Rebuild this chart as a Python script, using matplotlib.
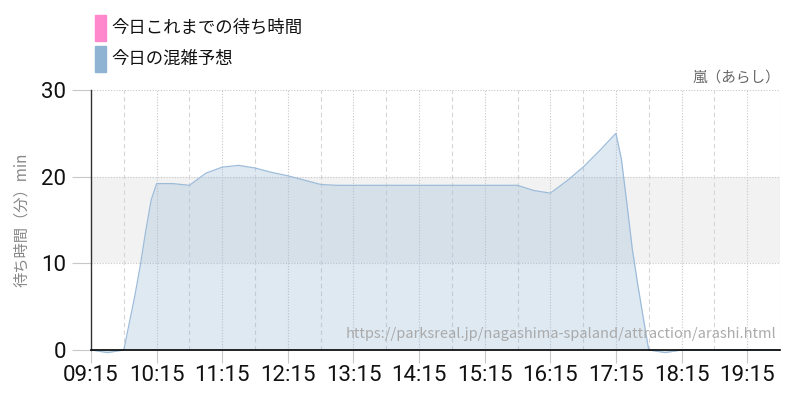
import numpy as np
import matplotlib.pyplot as plt
from matplotlib.patches import Rectangle

plt.rcParams['font.family'] = ['Noto Sans CJK JP', 'DejaVu Sans']

# forecast wait time (minutes) by time of day
times = ["09:15", "09:30", "09:45", "09:50", "09:55", "10:00", "10:05", "10:10",
         "10:15", "10:30", "10:45", "11:00", "11:15", "11:30", "11:45", "12:00",
         "12:15", "12:30", "12:45", "13:00", "13:15", "13:30", "13:45", "14:00",
         "14:15", "14:30", "14:45", "15:00", "15:15", "15:30", "15:45", "16:00",
         "16:15", "16:30", "16:45", "17:00", "17:15", "17:20", "17:25", "17:30",
         "17:35", "17:40", "17:45", "18:00", "18:15", "18:30", "18:45", "19:00",
         "19:15", "19:30", "19:45"]
forecast = [0, -0.3, 0, 3.1, 6.2, 9.7, 13.7, 17.3,
            19.2, 19.2, 19.0, 20.4, 21.1, 21.3, 21.0, 20.5,
            20.1, 19.6, 19.1, 19.0, 19.0, 19.0, 19.0, 19.0,
            19.0, 19.0, 19.0, 19.0, 19.0, 19.0, 19.0, 18.4,
            18.1, 19.5, 21.1, 23.0, 25.0, 22.0, 16.9, 11.6,
            7.5, 3.7, 0, -0.3, 0, 0, 0, 0,
            0, 0, 0]

tick_labels = ["09:15", "10:15", "11:15", "12:15", "13:15", "14:15",
               "15:15", "16:15", "17:15", "18:15", "19:15"]
yticks = [0, 10, 20, 30]


def to_hours(s):
    h, m = s.split(":")
    return int(h) + int(m) / 60


x = np.array([to_hours(t) for t in times])
y = np.array(forecast)
xt = [to_hours(t) for t in tick_labels]

fig = plt.figure(figsize=(8, 4), dpi=100)
ax = fig.add_axes([0.11375, 0.125, 0.975 - 0.11375, 0.65])

x0, x1 = to_hours("09:15"), to_hours("19:45")
ax.set_xlim(x0, x1)
ax.set_ylim(0, 30)

# grey band between 10 and 20
ax.axhspan(10, 20, color='#f2f2f2', zorder=0, lw=0)

# grid
for v in yticks[1:]:
    ax.axhline(v, color='#c8c8c8', lw=0.8, ls=(0, (1, 1.5)), zorder=1)
for v in xt[1:]:
    ax.axvline(v, color='#c8c8c8', lw=0.8, ls=(0, (1, 1.5)), zorder=1)
for v in np.array(xt) + 0.5:
    ax.axvline(v, color='#d6d6d6', lw=0.8, ls=(0, (4, 3)), zorder=1)

ax.fill_between(x, y, 0, color='#97b8d8', alpha=0.31, lw=0, zorder=2, clip_on=False)
ax.plot(x, y, color='#9dbcda', lw=0.9, zorder=3, clip_on=False)

for s in ['top', 'right']:
    ax.spines[s].set_visible(False)
ax.spines['left'].set_color('#333333')
ax.spines['left'].set_linewidth(1.0)
ax.spines['bottom'].set_color('#000000')
ax.spines['bottom'].set_linewidth(1.2)
ax.spines['bottom'].set_zorder(4)

ax.set_xticks(xt)
ax.set_xticklabels(tick_labels)
ax.set_yticks(yticks)
ax.tick_params(axis='both', colors='#c8c8c8', labelcolor='#111111',
               labelsize=16, length=9, width=0.8)
ax.tick_params(axis='x', pad=2)
ax.tick_params(axis='y', length=14, pad=4)
for lab in ax.get_xticklabels() + ax.get_yticklabels():
    lab.set_family(['Roboto', 'DejaVu Sans'])
    lab.set_stretch('condensed')

ax.set_ylabel('待ち時間（分）min', color='#888888', fontsize=11, labelpad=8)

ax.text(1.0, 1.02, '嵐（あらし）', transform=ax.transAxes, ha='right', va='bottom',
        color='#666666', fontsize=10.5)
ax.text(0.995, 0.035, 'https://parksreal.jp/nagashima-spaland/attraction/arashi.html',
        transform=ax.transAxes, ha='right', va='bottom', color='#aaaaaa',
        fontsize=10.5, zorder=5)

# legend drawn by hand at top left
fig.patches.append(Rectangle((95 / 800, 1 - 41 / 400), 11 / 800, 26 / 400,
                             transform=fig.transFigure, color='#ff88cc'))
fig.patches.append(Rectangle((95 / 800, 1 - 72 / 400), 11 / 800, 26 / 400,
                             transform=fig.transFigure, color='#8fb3d3'))
fig.text(111 / 800, 1 - 28 / 400, '今日これまでの待ち時間', fontsize=12.5,
         va='center', ha='left', color='#111111')
fig.text(111 / 800, 1 - 59 / 400, '今日の混雑予想', fontsize=12.5,
         va='center', ha='left', color='#111111')

fig.savefig('out.png', dpi=100)
